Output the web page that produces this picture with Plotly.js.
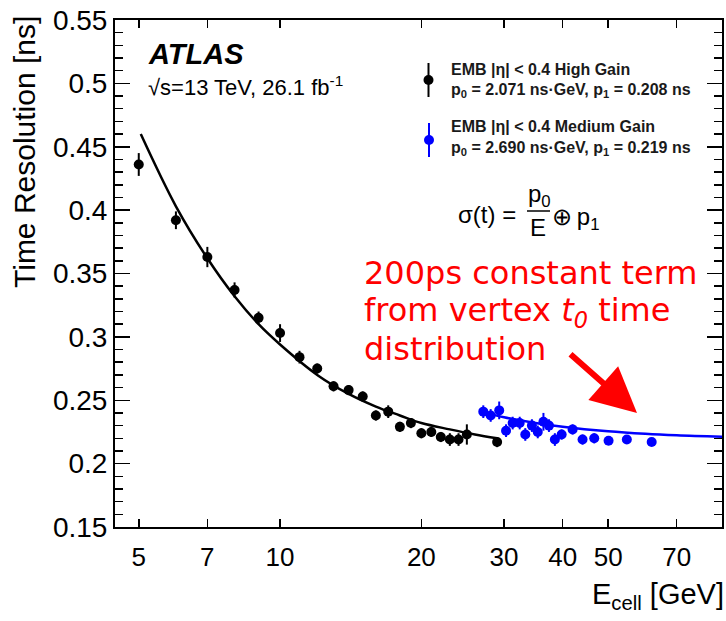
<!DOCTYPE html>
<html>
<head>
<meta charset="utf-8">
<script src="https://cdn.plot.ly/plotly-3.0.1.min.js"></script>
<style>html,body{margin:0;padding:0;background:#fff;}#chart{width:726px;height:621px;}</style>
</head>
<body>
<div id="chart"></div>
<script>
// ---- Data ----
const highGainE   = [5, 6, 7, 8, 9, 10, 11, 12, 13, 14, 15, 16, 17, 18, 19, 20, 21, 22, 23, 24, 25, 29];
const highGainRes = [0.436, 0.392, 0.363, 0.337, 0.315, 0.303, 0.284, 0.275, 0.261, 0.258, 0.253, 0.238, 0.241, 0.229, 0.232, 0.224, 0.225, 0.221, 0.219, 0.219, 0.223, 0.217];
const highGainErr = [0.009, 0.007, 0.008, 0.006, 0.005, 0.007, 0.005, 0.004, 0.004, 0.004, 0.004, 0.004, 0.005, 0.004, 0.004, 0.004, 0.004, 0.004, 0.005, 0.005, 0.008, 0.004];

const medGainE   = [27.1, 28.1, 29.3, 30.3, 31.3, 32.4, 33.3, 34.4, 35.4, 36.4, 37.4, 38.5, 39.8, 42.0, 44.1, 46.7, 50.1, 54.8, 61.9];
const medGainRes = [0.241, 0.238, 0.242, 0.226, 0.232, 0.232, 0.223, 0.230, 0.225, 0.233, 0.230, 0.219, 0.223, 0.227, 0.219, 0.220, 0.218, 0.219, 0.217];
const medGainErr = [0.005, 0.005, 0.007, 0.005, 0.005, 0.005, 0.005, 0.005, 0.005, 0.007, 0.005, 0.005, 0.004, 0.004, 0.004, 0.004, 0.003, 0.003, 0.003];

// fit curves
const highFitE   = [5.05, 6, 7, 8, 9, 10, 12, 14, 16, 18, 20, 23, 26, 29];
const highFitRes = [0.460, 0.403, 0.362, 0.332, 0.310, 0.294, 0.270, 0.255, 0.245, 0.238, 0.232, 0.227, 0.223, 0.220];
const medFitE    = [27, 30, 35, 40, 50, 60, 70, 88];
const medFitRes  = [0.2406, 0.2366, 0.2321, 0.2291, 0.2255, 0.2235, 0.2223, 0.2211];

const xTickVals  = [5, 7, 10, 20, 30, 40, 50, 70];
const xTickText  = ['5', '7', '10', '20', '30', '40', '50', '70'];
const xMinorVals = [6, 8, 9, 60, 80];
const xDecadeVals = [10];
const yTickVals = [0.15, 0.2, 0.25, 0.3, 0.35, 0.4, 0.45, 0.5, 0.55];
const yTickText = ['0.15', '0.2', '0.25', '0.3', '0.35', '0.4', '0.45', '0.5', '0.55'];

// ---- layout helpers (pixel -> paper) ----
const L = 115, R = 722, T = 20, B = 527, W = 726, H = 621;
const fx = px => (px - L) / (R - L);
const fy = py => (B - py) / (B - T);
const xRange = [Math.log10(4.45), Math.log10(87.4)];
const FONT = '"Liberation Sans", Arial, sans-serif';
const RED_FONT = '"DejaVu Sans", sans-serif';
const BLUE = '#0000ff';

const traces = [
  {x: highGainE, y: highGainRes, type: 'scatter', mode: 'markers',
   marker: {color: '#000', size: 10},
   error_y: {type: 'data', array: highGainErr, visible: true, color: '#000', thickness: 2, width: 0},
   showlegend: false},
  {x: medGainE, y: medGainRes, type: 'scatter', mode: 'markers',
   marker: {color: BLUE, size: 10},
   error_y: {type: 'data', array: medGainErr, visible: true, color: BLUE, thickness: 2, width: 0},
   showlegend: false},
  {x: highFitE, y: highFitRes, type: 'scatter', mode: 'lines', line: {color: '#000', width: 2.5, shape: 'spline'}, showlegend: false},
  {x: medFitE, y: medFitRes, type: 'scatter', mode: 'lines', line: {color: BLUE, width: 2.5, shape: 'spline'}, showlegend: false},
  // legend glyphs on a hidden [0,1] overlay
  {x: [fx(428.5)], y: [fy(80)], xaxis: 'x3', yaxis: 'y3', type: 'scatter', mode: 'markers',
   marker: {color: '#000', size: 10},
   error_y: {type: 'data', array: [17 / (B - T)], visible: true, color: '#000', thickness: 2, width: 0}, showlegend: false},
  {x: [fx(429)], y: [fy(140)], xaxis: 'x3', yaxis: 'y3', type: 'scatter', mode: 'markers',
   marker: {color: BLUE, size: 10},
   error_y: {type: 'data', array: [17 / (B - T)], visible: true, color: BLUE, thickness: 2, width: 0}, showlegend: false}
];

const ann = (text, px, py, opts) => Object.assign({
  text: text, xref: 'paper', yref: 'paper', x: fx(px), y: fy(py), showarrow: false,
  xanchor: 'left', yanchor: 'middle', font: {family: FONT, size: 16, color: '#000'}
}, opts || {});

const annotations = [
  ann('<b><i>ATLAS</i></b>', 146, 54, {font: {family: FONT, size: 29, color: '#000'}}),
  ann('√s=13 TeV, 26.1 fb<sup>-1</sup>', 146, 86, {font: {family: FONT, size: 22, color: '#000'}}),
  ann('<b>EMB |η| &lt; 0.4 High Gain</b>', 449, 69, {font: {family: FONT, size: 16, color: '#1a1a1a'}}),
  ann('<b>p<sub>0</sub> = 2.071 ns·GeV, p<sub>1</sub> = 0.208 ns</b>', 449, 90, {font: {family: FONT, size: 16, color: '#1a1a1a'}}),
  ann('<b>EMB |η| &lt; 0.4 Medium Gain</b>', 449, 127, {font: {family: FONT, size: 16, color: '#1a1a1a'}}),
  ann('<b>p<sub>0</sub> = 2.690 ns·GeV, p<sub>1</sub> = 0.219 ns</b>', 449, 149, {font: {family: FONT, size: 16, color: '#1a1a1a'}}),
  ann('σ(t) =', 518, 215, {xanchor: 'right', font: {family: FONT, size: 24, color: '#000'}}),
  ann('p<sub>0</sub>', 539, 195, {xanchor: 'center', font: {family: FONT, size: 24, color: '#000'}}),
  ann('E', 538, 227, {xanchor: 'center', font: {family: FONT, size: 24, color: '#000'}}),
  ann('⊕\u2009p<sub>1</sub>', 550, 218, {font: {family: FONT, size: 24, color: '#000'}}),
  ann('200ps constant term', 362, 273, {font: {family: RED_FONT, size: 32, color: '#ff0000'}}),
  ann('from vertex <i>t<sub>0</sub></i> time', 362, 312, {font: {family: RED_FONT, size: 32, color: '#ff0000'}}),
  ann('distribution', 362, 349, {font: {family: RED_FONT, size: 32, color: '#ff0000'}}),
  {text: '', xref: 'paper', yref: 'paper', x: fx(637), y: fy(413), ax: -68, ay: -60,
   showarrow: true, arrowcolor: '#ff0000', arrowwidth: 6, arrowhead: 2, arrowsize: 1.5},
  ann('Time Resolution [ns]', 25, 14, {textangle: -90, xanchor: 'center', yanchor: 'top', font: {family: FONT, size: 30, color: '#000'}}),
  ann('E<sub>cell</sub> [GeV]', 726, 596, {xanchor: 'right', font: {family: FONT, size: 29, color: '#000'}})
];

const tickAxis = (vals, len) => ({
  type: 'log', range: xRange, overlaying: 'x', anchor: 'y', tickmode: 'array', tickvals: vals,
  ticks: 'inside', ticklen: len, tickwidth: 1.5, tickcolor: '#000', showticklabels: false,
  showline: true, linewidth: 2, linecolor: '#000', mirror: 'ticks', showgrid: false, zeroline: false
});

const layout = {
  width: W, height: H,
  margin: {l: L, r: W - R, t: T, b: H - B, pad: 0},
  paper_bgcolor: '#fff', plot_bgcolor: '#fff',
  showlegend: false,
  font: {family: FONT, color: '#000'},
  xaxis: {type: 'log', range: xRange, tickmode: 'array', tickvals: xTickVals, ticktext: xTickText,
          ticks: 'inside', ticklen: 8, tickwidth: 1.5, tickcolor: '#000',
          showline: true, linewidth: 2, linecolor: '#000', mirror: 'ticks',
          showgrid: false, zeroline: false, tickfont: {family: FONT, size: 26, color: '#000'},
          ticklabelstandoff: 6},
  xaxis2: tickAxis(xMinorVals, 8),
  xaxis4: tickAxis(xDecadeVals, 15),
  yaxis: {range: [0.15, 0.55], tickmode: 'array', tickvals: yTickVals, ticktext: yTickText,
          ticks: 'inside', ticklen: 15, tickwidth: 1.5, tickcolor: '#000',
          minor: {dtick: 0.01, tick0: 0.15, ticks: 'inside', ticklen: 8, tickwidth: 1.5, tickcolor: '#000', showgrid: false},
          showline: true, linewidth: 2, linecolor: '#000', mirror: 'ticks',
          showgrid: false, zeroline: false, tickfont: {family: FONT, size: 28, color: '#000'}},
  xaxis3: {overlaying: 'x', anchor: 'y3', range: [0, 1], visible: false},
  yaxis3: {overlaying: 'y', anchor: 'x3', range: [0, 1], visible: false},
  annotations: annotations,
  shapes: [
    {type: 'line', xref: 'paper', yref: 'paper', x0: fx(527), x1: fx(550), y0: fy(211), y1: fy(211),
     line: {color: '#000', width: 1.5}}
  ]
};

Plotly.newPlot('chart', traces, layout, {staticPlot: true, displayModeBar: false});
</script>
</body>
</html>
